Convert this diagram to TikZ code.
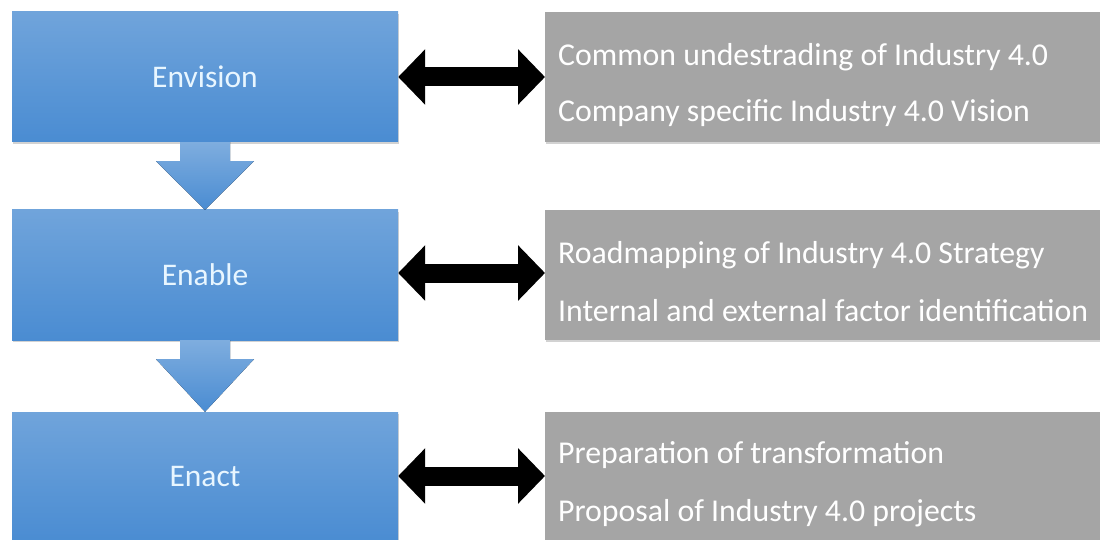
\documentclass[tikz,border=0pt]{standalone}
\usepackage{fontspec}
\setmainfont{Carlito}
\usetikzlibrary{arrows.meta,calc,shadows}
\definecolor{bluetop}{HTML}{70A4DB}
\definecolor{bluebot}{HTML}{4A8CD2}
\definecolor{greybox}{HTML}{A5A5A5}
\definecolor{bluetext}{HTML}{E8F6FF}
\begin{document}
\begin{tikzpicture}[x=1pt,y=-1pt,
  stage/.style={draw=none, minimum width=386pt, minimum height=130pt, inner sep=0pt,
    top color=bluetop, bottom color=bluebot, text=bluetext,
    font=\fontsize{31.5}{36}\selectfont,
    drop shadow={shadow xshift=1pt, shadow yshift=-2pt, opacity=0.35}},
  infobox/.style={draw=none, fill=greybox, minimum width=570pt, minimum height=130pt, inner sep=0pt, anchor=north west,
    drop shadow={shadow xshift=1pt, shadow yshift=-2pt, opacity=0.35}},
  infotext/.style={text=white, anchor=west, inner sep=0pt, font=\fontsize{31.8}{36}\selectfont},
  link/.style={line width=19pt, {Triangle[length=27pt,width=54pt]}-{Triangle[length=27pt,width=54pt]}},
  flow/.style={top color=bluetop!90!white, bottom color=bluebot},
]
\useasboundingbox (0,0) rectangle (1100,540);
\fill[white] (0,0) rectangle (1100,540);

% blue stage boxes
\node[stage] (b1) at (205,77) {Envision};
\node[stage] (b2) at (205,275) {Enable};
\node[stage] (b3) at (205,477) {Enact};

% grey boxes
\node[infobox] (g1) at (545,12) {};
\node[infobox] (g2) at (545,210) {};
\node[infobox] (g3) at (545,412) {};

% texts
\node[infotext] (t11) at (558,57) {Common undestrading of Industry 4.0};
\node[infotext] (t12) at (558,113) {Company specific Industry 4.0 Vision};
\node[infotext] (t21) at (558,255) {Roadmapping of Industry 4.0 Strategy};
\node[infotext] (t22) at (558,311) {Internal and external factor identification};
\node[infotext] (t31) at (558,455) {Preparation of transformation};
\node[infotext] (t32) at (558,513) {Proposal of Industry 4.0 projects};

% double arrows
\draw[link] (b1.east |- 0,77) -- (g1.west |- 0,77);
\draw[link] (b2.east |- 0,273) -- (g2.west |- 0,273);
\draw[link] (b3.east |- 0,476) -- (g3.west |- 0,476);

% down block arrows
\foreach \a/\b in {b1/b2, b2/b3}{
  \fill[flow] ($(\a.south)+(-25,0)$) -- ($(\a.south)+(25,0)$) -- ($(\a.south)+(25,19)$)
    -- ($(\a.south)+(49,19)$) -- (\b.north) -- ($(\a.south)+(-49,19)$)
    -- ($(\a.south)+(-25,19)$) -- cycle;
}
\end{tikzpicture}
\end{document}
